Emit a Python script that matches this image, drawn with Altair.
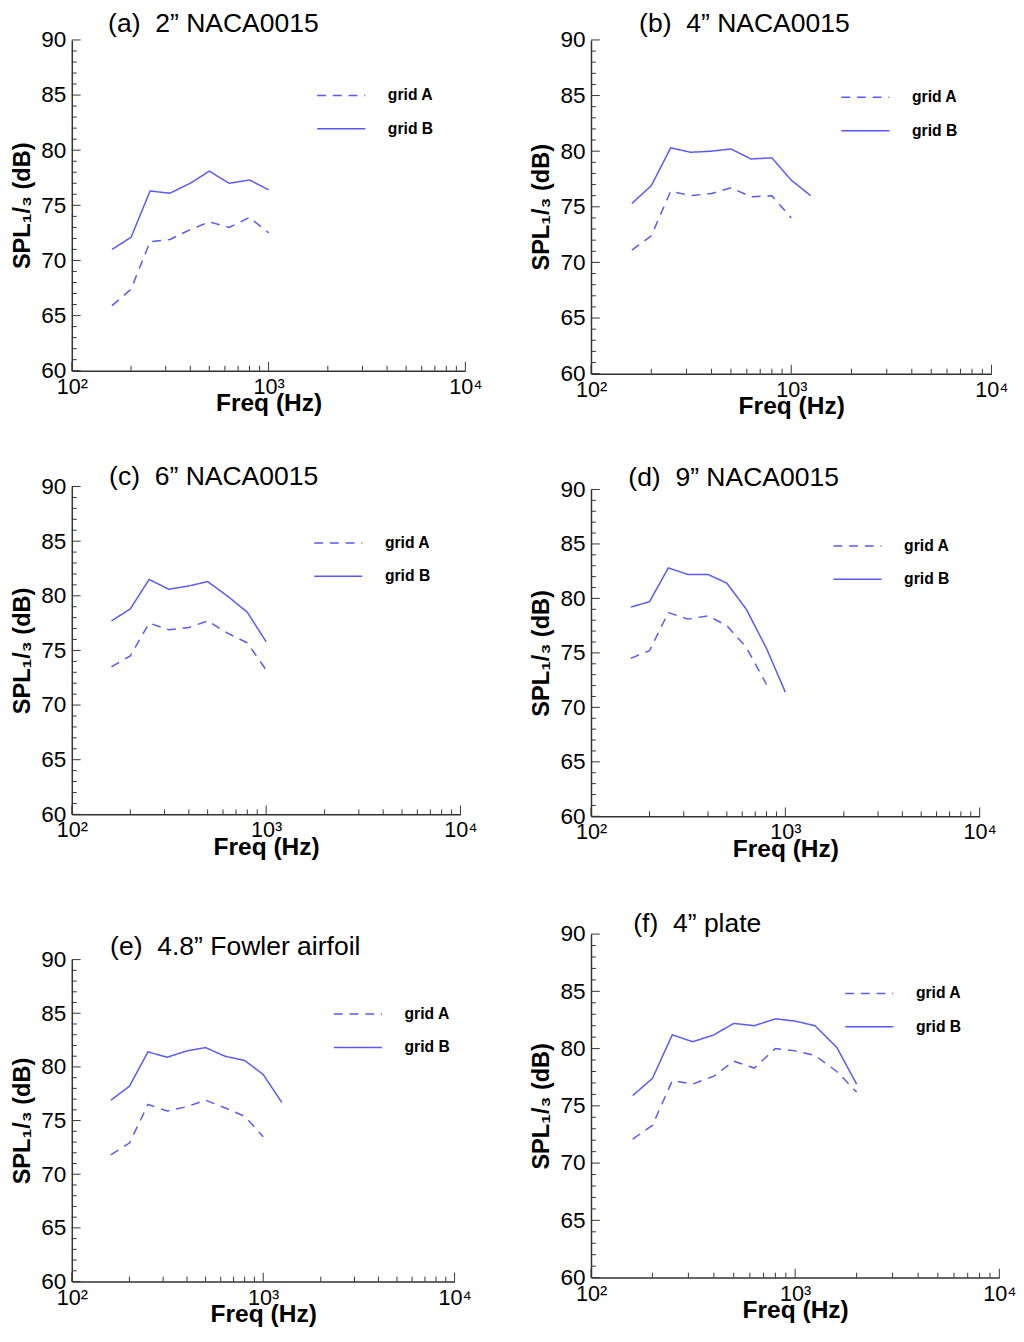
import altair as alt
import pandas as pd

FONT = "Liberation Sans"
BLUE = "#5858ff"
AXC = "#333333"

FREQ = [160, 200, 250, 315, 400, 500, 630, 800, 1000, 1250, 1600, 2000]

# (a) 2" NACA0015
a_A = [65.9, 67.4, 71.7, 71.9, 72.8, 73.5, 73.0, 73.9, 72.5]
a_B = [71.0, 72.1, 76.3, 76.1, 77.0, 78.1, 77.0, 77.3, 76.4]
# (b) 4" NACA0015
b_A = [71.1, 72.4, 76.4, 76.0, 76.2, 76.7, 75.9, 76.0, 74.0]
b_B = [75.3, 76.9, 80.3, 79.9, 80.0, 80.2, 79.3, 79.4, 77.4, 76.0]
# (c) 6" NACA0015
c_A = [73.5, 74.5, 77.5, 76.9, 77.1, 77.7, 76.6, 75.7, 73.2]
c_B = [77.7, 78.8, 81.5, 80.6, 80.9, 81.3, 80.0, 78.5, 75.8]
# (d) 9" NACA0015
d_A = [74.5, 75.2, 78.7, 78.1, 78.4, 77.5, 75.5, 72.1]
d_B = [79.2, 79.7, 82.8, 82.2, 82.2, 81.4, 79.0, 75.4, 71.4]
# (e) 4.8" Fowler airfoil
e_A = [71.8, 72.9, 76.5, 75.9, 76.3, 76.9, 76.2, 75.4, 73.5]
e_B = [76.9, 78.2, 81.4, 80.9, 81.5, 81.8, 81.0, 80.6, 79.3, 76.7]
# (f) 4" plate
f_A = [72.1, 73.3, 77.2, 76.9, 77.6, 78.9, 78.3, 80.0, 79.8, 79.4, 78.0, 76.2]
f_B = [75.9, 77.4, 81.2, 80.6, 81.2, 82.2, 82.0, 82.6, 82.4, 82.0, 80.1, 76.9]

SP = " \u00a0"
TITLES = ["(a)" + SP + "2\u201d NACA0015", "(b)" + SP + "4\u201d NACA0015",
          "(c)" + SP + "6\u201d NACA0015", "(d)" + SP + "9\u201d NACA0015",
          "(e)" + SP + "4.8\u201d Fowler airfoil", "(f)" + SP + "4\u201d plate"]
SERIES_NAMES = ["grid A", "grid B"]

Y_MAJOR = [60, 65, 70, 75, 80, 85, 90]
Y_MINOR = [v for v in range(60, 91) if v % 5 != 0]
X_MAJOR = [100, 1000, 10000]
X_MINOR = [200, 300, 400, 500, 600, 700, 800, 900,
           2000, 3000, 4000, 5000, 6000, 7000, 8000, 9000]

# layout per panel: width, height, title offset/dy/dx, legend x, legend y
LAYOUT = {
    "a": dict(w=401, h=337, toff=-15, tdy=-6, tdx=37, lx=249, ly=31),
    "b": dict(w=408, h=340, toff=-15, tdy=-6, tdx=49, lx=254, ly=33),
    "c": dict(w=396, h=334, toff=0, tdy=15, tdx=38, lx=246, ly=32),
    "d": dict(w=396, h=333, toff=0, tdy=13, tdx=38, lx=246, ly=32),
    "e": dict(w=390, h=328, toff=0, tdy=12, tdx=39, lx=266, ly=30),
    "f": dict(w=416, h=350, toff=0, tdy=15, tdx=43, lx=258, ly=35),
}

xscale = alt.Scale(type="log", domain=[100, 10000], nice=False)
yscale = alt.Scale(domain=[60, 90], nice=False, zero=False)

xaxis = alt.Axis(values=X_MAJOR, ticks=False, grid=False, domainColor=AXC, domainWidth=1.5,
                 labelExpr="datum.value == 100 ? '10\u00b2' : datum.value == 1000 ? '10\u00b3' : '10\u2074'",
                 labelFont=FONT, labelFontSize=22, labelColor="black", labelPadding=6,
                 labelFlush=False, labelOverlap=False,
                 titleFont=FONT, titleFontSize=25, titleFontWeight="bold", titleColor="black",
                 titlePadding=-6)
yaxis = alt.Axis(values=Y_MAJOR, ticks=False, grid=False, domainColor=AXC, domainWidth=1.5,
                 labelFont=FONT, labelFontSize=23, labelColor="black", labelPadding=6,
                 labelFlush=False, labelOverlap=False,
                 titleFont=FONT, titleFontSize=24, titleFontWeight="bold", titleColor="black",
                 titlePadding=7)
XT = "Freq (Hz)"
YT = "SPL\u2081/\u2083 (dB)"


def panel(key, title, A, B):
    L = LAYOUT[key]
    rows = []
    for name, vals in zip(SERIES_NAMES, [A, B]):
        for f, v in zip(FREQ, vals):
            rows.append({"freq": f, "spl": v, "grid": name})
    df = pd.DataFrame(rows)

    lines = alt.Chart(df).mark_line(color=BLUE, strokeWidth=1.5).encode(
        x=alt.X("freq:Q", scale=xscale, axis=xaxis, title=XT),
        y=alt.Y("spl:Q", scale=yscale, axis=yaxis, title=YT),
        strokeDash=alt.StrokeDash(
            "grid:N",
            scale=alt.Scale(domain=SERIES_NAMES, range=[[9, 7], [1, 0]]),
            legend=alt.Legend(orient="none", legendX=L["lx"], legendY=L["ly"], title=None,
                              symbolType="stroke", symbolSize=2401, symbolStrokeColor=BLUE,
                              symbolStrokeWidth=1.5, labelFont=FONT, labelFontSize=16,
                              labelFontWeight="bold", labelColor="black", labelOffset=22,
                              rowPadding=-6, padding=0),
        ),
    )

    ymaj = alt.Chart(pd.DataFrame({"v": Y_MAJOR})).mark_rule(color=AXC, strokeWidth=1).encode(
        y=alt.Y("v:Q", scale=yscale, axis=yaxis, title=YT), x=alt.value(0), x2=alt.value(9))
    ymin = alt.Chart(pd.DataFrame({"v": Y_MINOR})).mark_rule(color=AXC, strokeWidth=1).encode(
        y=alt.Y("v:Q", scale=yscale, axis=yaxis, title=YT), x=alt.value(0), x2=alt.value(5))
    xmaj = alt.Chart(pd.DataFrame({"f": X_MAJOR})).mark_rule(color=AXC, strokeWidth=1).encode(
        x=alt.X("f:Q", scale=xscale, axis=xaxis, title=XT), y=alt.value(L["h"]), y2=alt.value(L["h"] - 9))
    xmin = alt.Chart(pd.DataFrame({"f": X_MINOR})).mark_rule(color=AXC, strokeWidth=1).encode(
        x=alt.X("f:Q", scale=xscale, axis=xaxis, title=XT), y=alt.value(L["h"]), y2=alt.value(L["h"] - 5))

    return alt.layer(lines, ymaj, ymin, xmaj, xmin).properties(
        width=L["w"], height=L["h"],
        title=alt.TitleParams(text=title, anchor="start", frame="group", dx=L["tdx"],
                              dy=L["tdy"], offset=L["toff"], font=FONT, fontSize=27,
                              fontWeight="normal", color="black"),
    )


pa = panel("a", TITLES[0], a_A, a_B)
pb = panel("b", TITLES[1], b_A, b_B)
pc = panel("c", TITLES[2], c_A, c_B)
pd_ = panel("d", TITLES[3], d_A, d_B)
pe = panel("e", TITLES[4], e_A, e_B)
pf = panel("f", TITLES[5], f_A, f_B)


def indep(ch):
    return ch.resolve_scale(strokeDash="independent").resolve_legend(strokeDash="independent")


left = indep(alt.vconcat(pa, indep(alt.vconcat(pc, pe, spacing=75)), spacing=48))
right = indep(alt.vconcat(pb, indep(alt.vconcat(pd_, pf, spacing=50)), spacing=46))

chart = indep(alt.hconcat(left, right, spacing=48)).properties(
    padding={"left": 2, "top": -10, "right": 0, "bottom": 0},
    background="white",
).configure_view(stroke=None)

chart.save("out.html", embed_options={"renderer": "svg", "actions": False})
